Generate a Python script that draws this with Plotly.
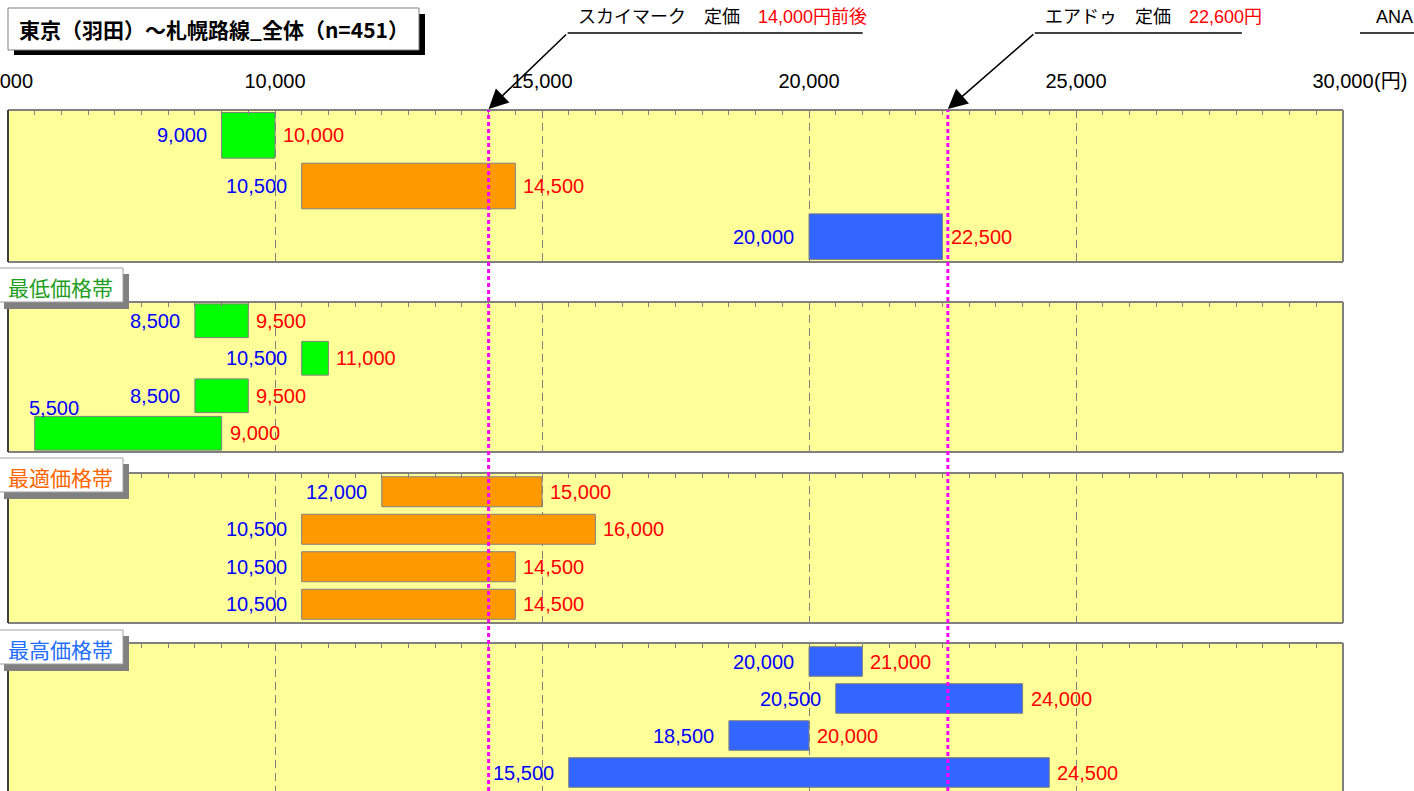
import plotly.graph_objects as go

# ---- data -------------------------------------------------------------
overall_low = [9000, 10500, 20000]
overall_high = [10000, 14500, 22500]

cheap_low = [8500, 10500, 8500, 5500]
cheap_high = [9500, 11000, 9500, 9000]

optimal_low = [12000, 10500, 10500, 10500]
optimal_high = [15000, 16000, 14500, 14500]

premium_low = [20000, 20500, 18500, 15500]
premium_high = [21000, 24000, 20000, 24500]

band_names = ["最低価格帯", "最適価格帯", "最高価格帯"]
title_text = "東京（羽田）～札幌路線_全体（n=451）"

skymark_price = 14000
airdo_price = 22600

# ---- styling ----------------------------------------------------------
W, H = 1414, 791
ML, MR = 8, 71
PLOT_W = W - ML - MR
X_MIN, X_MAX = 5000, 30000
PPU = PLOT_W / (X_MAX - X_MIN)          # pixels per yen

GREEN, ORANGE, BLUE = "#00FF00", "#FF9900", "#3366FF"
BG_YELLOW = "#FFFF99"
BORDER = "#808080"
NUM_FONT = "Liberation Sans, Arial, Noto Sans CJK JP"
JP_FONT = "Noto Sans CJK JP"
LOW_COLOR, HIGH_COLOR = "#0000FF", "#FF0000"
LABEL_SIZE = 20
TICK_LABEL_Y = 81


def fx(px):
    return (px - ML) / PLOT_W


def fy(py):
    return 1 - py / H


panels = [
    dict(low=overall_low, high=overall_high, colors=[GREEN, ORANGE, BLUE],
         top=110, bottom=262, width=0.9),
    dict(low=cheap_low, high=cheap_high, colors=[GREEN] * 4,
         top=302, bottom=452, width=0.9),
    dict(low=optimal_low, high=optimal_high, colors=[ORANGE] * 4,
         top=473, bottom=623, width=0.8),
    dict(low=premium_low, high=premium_high, colors=[BLUE] * 4,
         top=643, bottom=H, width=0.8),
]

fig = go.Figure()
annotations = []
shapes = []
layout = dict(
    width=W, height=H,
    margin=dict(l=ML, r=MR, t=0, b=0),
    plot_bgcolor=BG_YELLOW,
    paper_bgcolor="white",
    showlegend=False,
    font=dict(family=JP_FONT, size=18, color="black"),
)

for i, p in enumerate(panels, start=1):
    n = len(p["low"])
    suffix = "" if i == 1 else str(i)
    xa, ya = "x" + suffix, "y" + suffix
    rows = list(range(n))
    fig.add_trace(go.Bar(
        y=rows,
        x=[h - l for l, h in zip(p["low"], p["high"])],
        base=p["low"],
        orientation="h",
        width=p["width"],
        marker=dict(color=p["colors"], line=dict(color=BORDER, width=1)),
        xaxis=xa, yaxis=ya,
        hoverinfo="skip",
    ))

    xaxis = dict(
        domain=[0, 1], anchor=ya, side="top",
        range=[X_MIN, X_MAX],
        tickmode="linear", tick0=X_MIN, dtick=5000, tickformat=",d",
        showticklabels=(i == 1),
        tickfont=dict(family=NUM_FONT, size=LABEL_SIZE, color="black"),
        ticks="inside", ticklen=5, tickcolor=BORDER, tickwidth=1,
        ticklabelstandoff=17,
        minor=dict(dtick=500, tick0=X_MIN, ticks="inside", ticklen=5,
                   tickcolor=BORDER, tickwidth=1, showgrid=False),
        showgrid=True, gridcolor=BORDER, gridwidth=1, griddash="8px,5px",
        showline=False, zeroline=False, fixedrange=True, automargin=False,
    )
    if i > 1:
        xaxis["matches"] = "x"
    layout["xaxis" + suffix] = xaxis
    layout["yaxis" + suffix] = dict(
        domain=[max(0, fy(p["bottom"])), fy(p["top"])], anchor=xa,
        range=[n - 0.5, -0.5], visible=False, fixedrange=True,
    )

    # value labels: start price on the left, end price on the right
    for j, (lo, hi) in enumerate(zip(p["low"], p["high"])):
        room = (lo - X_MIN) * PPU
        if room < 62:
            annotations.append(dict(
                x=lo, y=j, xref=xa, yref=ya, text=f"{lo:,}",
                xanchor="left", xshift=-8, yshift=25, showarrow=False,
                font=dict(family=NUM_FONT, size=LABEL_SIZE, color=LOW_COLOR)))
        else:
            annotations.append(dict(
                x=lo, y=j, xref=xa, yref=ya, text=f"{lo:,}",
                xanchor="right", xshift=-13, showarrow=False,
                font=dict(family=NUM_FONT, size=LABEL_SIZE, color=LOW_COLOR)))
        annotations.append(dict(
            x=hi, y=j, xref=xa, yref=ya, text=f"{hi:,}",
            xanchor="left", xshift=6, showarrow=False,
            font=dict(family=NUM_FONT, size=LABEL_SIZE, color=HIGH_COLOR)))

    # panel frame
    dref = dict(xref=f"{xa} domain", yref=f"{ya} domain", layer="above")
    shapes.append(dict(type="line", x0=0, x1=1, y0=1, y1=1,
                       line=dict(color=BORDER, width=2), **dref))
    shapes.append(dict(type="line", x0=1, x1=1, y0=0, y1=1,
                       line=dict(color=BORDER, width=2), **dref))
    if i < len(panels):
        shapes.append(dict(type="line", x0=0, x1=1, y0=0, y1=0,
                           line=dict(color=BORDER, width=2), **dref))
    shapes.append(dict(type="line", x0=0, x1=0, y0=0, y1=1,
                       line=dict(color="#404040", width=2), **dref))

# first tick label sits on the left edge of the page
annotations.append(dict(
    x=X_MIN, y=fy(TICK_LABEL_Y), xref="x", yref="paper", text=f"{X_MIN:,}",
    xanchor="center", yanchor="middle", showarrow=False,
    font=dict(family=NUM_FONT, size=LABEL_SIZE, color="black")))

# unit next to the last tick label
annotations.append(dict(
    x=X_MAX, y=fy(TICK_LABEL_Y), xref="x", yref="paper", text="(円)",
    xanchor="left", yanchor="middle", xshift=29, showarrow=False,
    font=dict(family=NUM_FONT, size=LABEL_SIZE, color="black")))

# reference fares: dotted verticals with callouts
callouts = [
    (skymark_price, "スカイマーク　定価　", "14,000円前後", 79, 295),
    (airdo_price, "エアドゥ　定価　", "22,600円", 87, 207),
]
tip_y = 109
line_y = 33
for price, name, fare, dx, length in callouts:
    shapes.append(dict(type="line", xref="x", yref="paper",
                       x0=price, x1=price, y0=0, y1=fy(110),
                       line=dict(color="#FF00FF", width=3, dash="4px,3px"),
                       layer="above"))
    annotations.append(dict(
        x=price, y=fy(tip_y), xref="x", yref="paper", text="",
        showarrow=True, ax=dx, ay=line_y - tip_y, axref="pixel", ayref="pixel",
        arrowhead=2, arrowsize=2.6, arrowwidth=1.5, arrowcolor="black",
        standoff=0))
    x_start = price + dx / PPU
    shapes.append(dict(type="line", xref="x", yref="paper",
                       x0=x_start, x1=x_start + length / PPU,
                       y0=fy(line_y), y1=fy(line_y),
                       line=dict(color="black", width=1.5)))
    annotations.append(dict(
        x=x_start + 8 / PPU, y=fy(17), xref="x", yref="paper",
        text=f"{name}<span style='color:#FF0000'>{fare}</span>",
        xanchor="left", yanchor="middle", showarrow=False,
        font=dict(family=NUM_FONT, size=18, color="black")))

# third carrier callout running off the right edge
shapes.append(dict(type="line", xref="paper", yref="paper",
                   x0=fx(1360), x1=fx(1430), y0=fy(line_y), y1=fy(line_y),
                   line=dict(color="black", width=1.5)))
annotations.append(dict(
    x=fx(1374), y=fy(17), xref="paper", yref="paper", text="ANA",
    xanchor="left", yanchor="middle", showarrow=False,
    font=dict(family=NUM_FONT, size=18, color="black")))

# title box with drop shadow
shapes.append(dict(type="rect", xref="paper", yref="paper",
                   x0=fx(14), x1=fx(425), y0=fy(55), y1=fy(14),
                   fillcolor="black", line=dict(width=0), layer="above"))
shapes.append(dict(type="rect", xref="paper", yref="paper",
                   x0=fx(8), x1=fx(419), y0=fy(50), y1=fy(8),
                   fillcolor="white", line=dict(color=BORDER, width=1),
                   layer="above"))
annotations.append(dict(
    x=fx(214), y=fy(29), xref="paper", yref="paper",
    text=f"<b>{title_text}</b>", xanchor="center", yanchor="middle",
    showarrow=False, font=dict(family=JP_FONT, size=21, color="black")))

# band name tags
band_colors = ["#1E9E1E", "#FF6600", "#1E6EFF"]
band_tops = [268, 458, 630]
for name, color, top in zip(band_names, band_colors, band_tops):
    shapes.append(dict(type="rect", xref="paper", yref="paper",
                       x0=fx(4), x1=fx(129), y0=fy(top + 41), y1=fy(top + 6),
                       fillcolor="#808080", line=dict(width=0), layer="above"))
    shapes.append(dict(type="rect", xref="paper", yref="paper",
                       x0=fx(-2), x1=fx(123), y0=fy(top + 34), y1=fy(top),
                       fillcolor="white", line=dict(color="#A0A0A0", width=1),
                       layer="above"))
    annotations.append(dict(
        x=fx(6), y=fy(top + 19), xref="paper", yref="paper", text=name,
        xanchor="left", yanchor="middle", showarrow=False,
        font=dict(family=JP_FONT, size=21, color=color)))

layout["annotations"] = annotations
layout["shapes"] = shapes
fig.update_layout(**layout)

fig.write_html("out.html")
